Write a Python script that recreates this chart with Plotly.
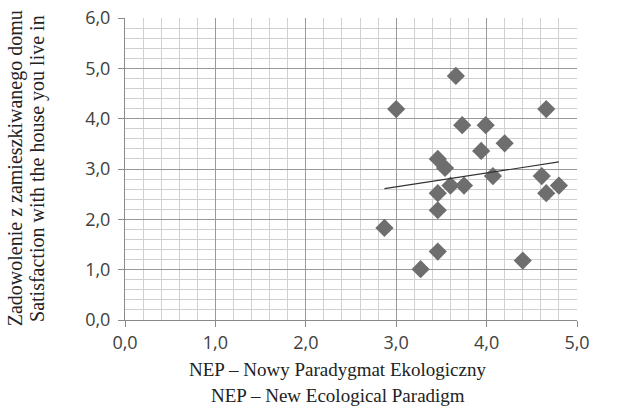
import plotly.graph_objects as go

nep = [2.87, 3.00, 3.27, 3.46, 3.46, 3.46, 3.46, 3.54, 3.60, 3.66, 3.73,
       3.75, 3.94, 3.99, 4.07, 4.20, 4.40, 4.61, 4.66, 4.66, 4.80]
satisfaction = [1.83, 4.19, 1.01, 1.36, 2.18, 2.52, 3.20, 3.02, 2.67, 4.85, 3.87,
                2.67, 3.36, 3.87, 2.86, 3.51, 1.18, 2.86, 2.52, 4.19, 2.67]

# linear trend line (endpoints)
trend_x = [2.87, 4.80]
trend_y = [2.61, 3.14]

x_ticks = [0, 1, 2, 3, 4, 5]
x_ticklabels = ["0,0", "1,0", "2,0", "3,0", "4,0", "5,0"]
y_ticks = [0, 1, 2, 3, 4, 5, 6]
y_ticklabels = ["0,0", "1,0", "2,0", "3,0", "4,0", "5,0", "6,0"]

x_title_lines = ["NEP – Nowy Paradygmat Ekologiczny", "NEP – New Ecological Paradigm"]
y_title_lines = ["Zadowolenie z zamieszkiwanego domu", "Satisfaction with the house you live in"]

fig = go.Figure()
fig.add_trace(go.Scatter(
    x=nep, y=satisfaction, mode="markers",
    marker=dict(symbol="diamond", size=14, color="#6e6e6e", line=dict(width=0)),
    showlegend=False, hoverinfo="x+y"))
fig.add_trace(go.Scatter(
    x=trend_x, y=trend_y, mode="lines", line=dict(color="#333333", width=1.2),
    showlegend=False, hoverinfo="skip"))

tickfont = dict(family="Open Sans", size=18, color="#404040")
xtitlefont = dict(family="Liberation Serif, Times New Roman, serif", size=19, color="#222222")
ytitlefont = dict(family="Liberation Serif, Times New Roman, serif", size=20, color="#222222")

annotations = []
for txt, yp in zip(x_title_lines, [-0.163, -0.250]):
    annotations.append(dict(text=txt, xref="paper", yref="paper", x=0.471, y=yp,
                            xanchor="center", yanchor="middle", showarrow=False,
                            font=xtitlefont))
for txt, xp in zip(y_title_lines, [-0.243, -0.195]):
    annotations.append(dict(text=txt, xref="paper", yref="paper", x=xp, y=0.503,
                            xanchor="center", yanchor="middle", showarrow=False,
                            textangle=-90, font=ytitlefont))

fig.update_layout(
    width=636, height=406,
    margin=dict(l=125, r=59, t=18, b=86),
    paper_bgcolor="white", plot_bgcolor="white",
    annotations=annotations,
    xaxis=dict(
        range=[0, 5], tickvals=x_ticks, ticktext=x_ticklabels,
        showgrid=True, gridcolor="#9a9a9a", gridwidth=1,
        minor=dict(dtick=0.2, showgrid=True, gridcolor="#d0d0d0", gridwidth=1),
        showline=True, linecolor="#8a8a8a", linewidth=1,
        ticks="outside", ticklen=6, tickcolor="#8a8a8a",
        tickfont=tickfont, zeroline=False, automargin=False,
    ),
    yaxis=dict(
        range=[0, 6], tickvals=y_ticks, ticktext=y_ticklabels,
        showgrid=True, gridcolor="#9a9a9a", gridwidth=1,
        minor=dict(dtick=0.2, showgrid=True, gridcolor="#d0d0d0", gridwidth=1),
        showline=True, linecolor="#8a8a8a", linewidth=1,
        ticks="outside", ticklen=6, tickcolor="#8a8a8a", ticklabelstandoff=4,
        tickfont=tickfont, zeroline=False, automargin=False,
    ),
)

fig.write_html("out.html", config={"displayModeBar": False},
               post_script="document.body.style.margin='0';document.body.style.overflow='hidden';")
